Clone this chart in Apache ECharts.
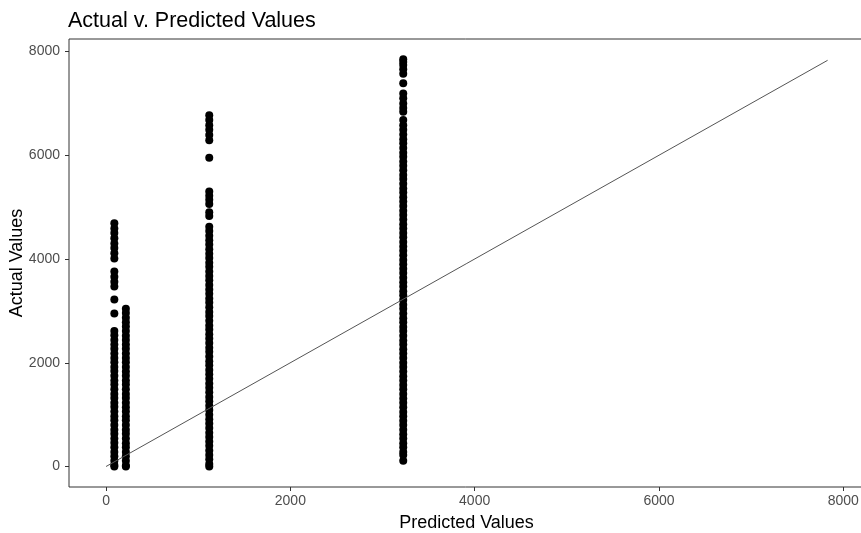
<!DOCTYPE html>
<html>
<head>
<meta charset="utf-8">
<script src="https://cdn.jsdelivr.net/npm/echarts@6/dist/echarts.min.js"></script>
<style>
  html, body { margin: 0; padding: 0; background: #fff; }
  #chart { width: 861px; height: 533px; }
</style>
</head>
<body>
<div id="chart"></div>
<script>
// Predicted level of each column of observations
const predictedLevels = [90, 215, 1120, 3225];

// Actual values observed at each predicted level
const actualAtLevel1 = [4690, 4590, 4500, 4400, 4300, 4210, 4110, 4010, 3760, 3660, 3560, 3470, 3220, 2950,
  2610, 2530, 2440, 2350, 2270, 2180, 2090, 2010, 1920, 1840, 1750, 1660, 1580, 1490, 1400, 1320, 1230,
  1150, 1060, 970, 890, 800, 710, 630, 540, 460, 370, 280, 200, 110, 30, 0];
const actualAtLevel2 = [3040, 2960, 2870, 2780, 2700, 2610, 2520, 2440, 2350, 2270, 2180, 2090, 2010, 1920,
  1830, 1750, 1660, 1580, 1490, 1400, 1320, 1230, 1140, 1060, 970, 890, 800, 710, 630, 540, 450, 370,
  280, 200, 110, 20, 0];
const actualAtLevel3 = [6770, 6680, 6580, 6490, 6390, 6290, 5950, 5300, 5220, 5140, 5060, 4900, 4830,
  4620, 4540, 4450, 4360, 4280, 4190, 4100, 4020, 3930, 3850, 3760, 3670, 3590, 3500, 3410, 3330, 3240,
  3160, 3070, 2980, 2900, 2810, 2720, 2640, 2550, 2470, 2380, 2290, 2210, 2120, 2030, 1950, 1860, 1780,
  1690, 1600, 1520, 1430, 1340, 1260, 1170, 1090, 1000, 910, 830, 740, 650, 570, 480, 400, 310, 220,
  140, 50, 0];
const actualAtLevel4 = [7850, 7800, 7740, 7660, 7570, 7390, 7190, 7100, 7000, 6910, 6840, 6680, 6580,
  6490, 6400, 6310, 6230, 6140, 6050, 5970, 5880, 5800, 5710, 5620, 5540, 5450, 5360, 5280, 5190, 5110,
  5020, 4930, 4850, 4760, 4670, 4590, 4500, 4420, 4330, 4240, 4160, 4070, 3980, 3900, 3810, 3730, 3640,
  3550, 3470, 3380, 3300, 3210, 3120, 3040, 2950, 2860, 2780, 2690, 2610, 2520, 2430, 2350, 2260, 2180,
  2090, 2000, 1920, 1830, 1740, 1660, 1570, 1490, 1400, 1310, 1230, 1140, 1050, 970, 880, 800, 710,
  620, 540, 450, 370, 280, 220, 110];

// Reference line: predicted equals actual
const identityLine = [[0, 0], [7830, 7830]];

// Tick labels
const xTicks = [0, 2000, 4000, 6000, 8000];
const yTicks = [0, 2000, 4000, 6000, 8000];

const actualColumns = [actualAtLevel1, actualAtLevel2, actualAtLevel3, actualAtLevel4];
const points = [];
actualColumns.forEach((col, i) => {
  col.forEach(v => points.push([predictedLevels[i], v]));
});

const font = 'Liberation Sans, Arial, sans-serif';
const chart = echarts.init(document.getElementById('chart'), null, { renderer: 'canvas' });

chart.setOption({
  animation: false,
  backgroundColor: '#ffffff',
  title: {
    text: 'Actual v. Predicted Values',
    left: 63,
    top: 5,
    textStyle: { fontFamily: font, fontSize: 21.5, fontWeight: 'normal', color: '#000' }
  },
  grid: {
    left: 69,
    top: 39,
    width: 795,
    height: 448,
    containLabel: false,
    outerBoundsMode: 'none',
    show: true,
    borderColor: '#333',
    borderWidth: 1,
    backgroundColor: '#fff'
  },
  xAxis: {
    type: 'value',
    min: -402,
    max: 8225,
    name: 'Predicted Values',
    nameLocation: 'middle',
    nameGap: 27,
    nameMoveOverlap: false,
    nameTextStyle: { fontFamily: font, fontSize: 18, color: '#000' },
    splitLine: { show: false },
    axisLine: { show: false, onZero: false },
    axisTick: { show: true, length: 4, lineStyle: { color: '#333' }, customValues: xTicks },
    axisLabel: {
      fontFamily: font, fontSize: 14, color: '#4d4d4d', margin: 7, customValues: xTicks,
      formatter: v => String(v)
    }
  },
  yAxis: {
    type: 'value',
    min: -395,
    max: 8241,
    name: 'Actual Values',
    nameLocation: 'middle',
    nameGap: 43,
    nameMoveOverlap: false,
    nameTextStyle: { fontFamily: font, fontSize: 18, color: '#000' },
    splitLine: { show: false },
    axisLine: { show: false, onZero: false },
    axisTick: { show: true, length: 4, lineStyle: { color: '#333' }, customValues: yTicks },
    axisLabel: {
      fontFamily: font, fontSize: 14, color: '#4d4d4d', margin: 9, customValues: yTicks,
      formatter: v => String(v)
    }
  },
  series: [
    {
      type: 'scatter',
      data: points,
      symbol: 'circle',
      symbolSize: 8,
      itemStyle: { color: '#000', opacity: 1 },
      z: 2
    },
    {
      type: 'line',
      data: identityLine,
      symbol: 'none',
      lineStyle: { color: '#555', width: 1 },
      z: 3
    }
  ]
});
</script>
</body>
</html>
